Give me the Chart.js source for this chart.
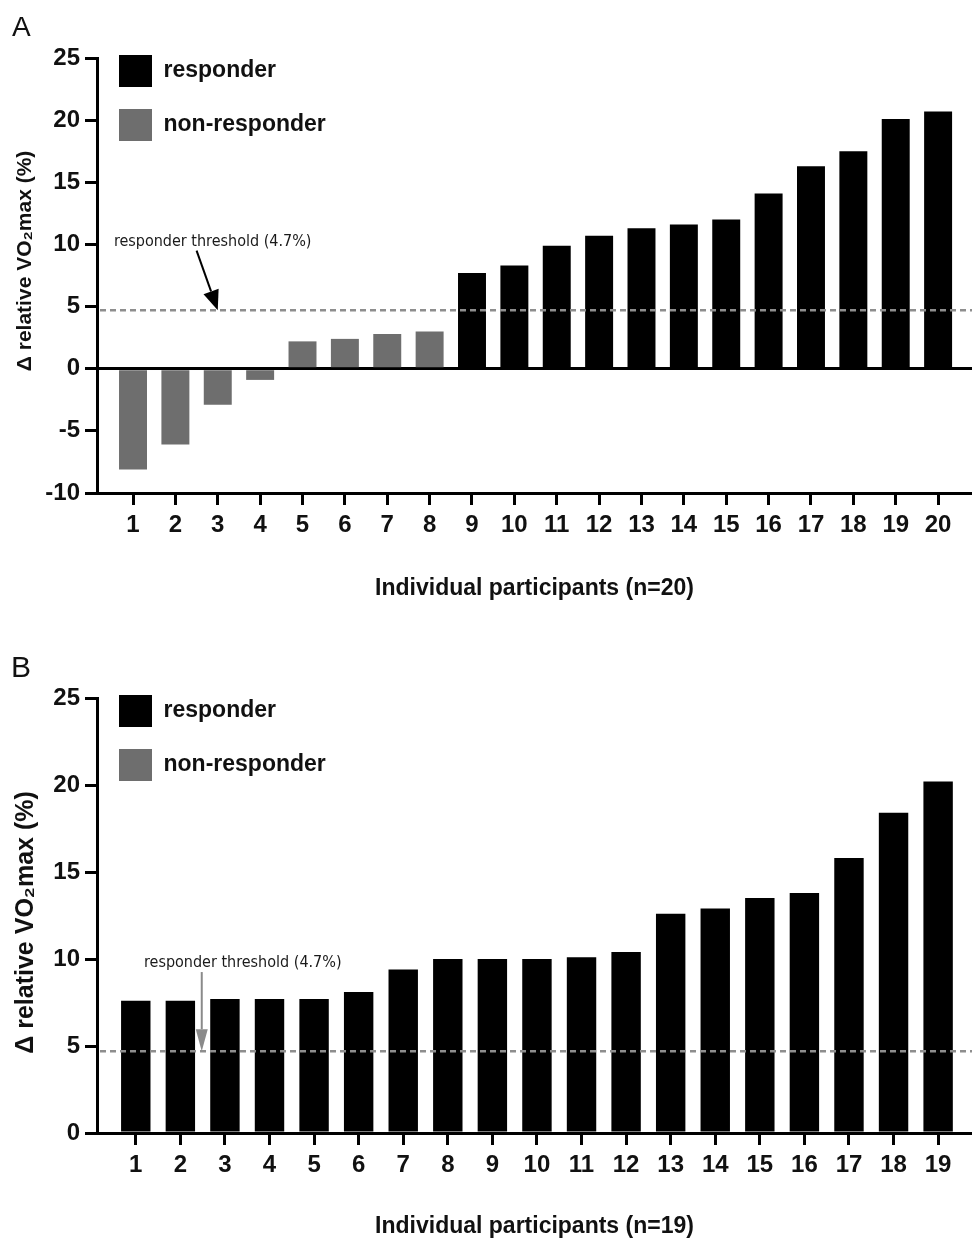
<!DOCTYPE html>
<html><head><meta charset="utf-8">
<script src="https://cdn.jsdelivr.net/npm/chart.js@4.4.1/dist/chart.umd.min.js"></script>
<style>
html,body{margin:0;padding:0;background:#fff;width:972px;height:1238px;overflow:hidden;}
.panel{position:absolute;left:0;width:972px;height:619px;}
#pA{top:0}#pB{top:619px}
.lbl{position:absolute;font-family:"Liberation Sans",Arial,sans-serif;color:#111;line-height:1;}
</style></head><body>
<div class="panel" id="pA"><canvas id="cA" width="972" height="619"></canvas></div>
<div class="panel" id="pB"><canvas id="cB" width="972" height="619"></canvas></div>
<div class="lbl" style="left:12px;top:13px;font-size:28px;line-height:28px">A</div>
<div class="lbl" style="left:11px;top:652px;font-size:30px;line-height:30px">B</div>
<script>
// ---- data ----
const categoriesA = [1, 2, 3, 4, 5, 6, 7, 8, 9, 10, 11, 12, 13, 14, 15, 16, 17, 18, 19, 20];
const valuesA = [-8.1, -6.1, -2.9, -0.9, 2.2, 2.4, 2.8, 3.0, 7.7, 8.3, 9.9, 10.7, 11.3, 11.6, 12.0, 14.1, 16.3, 17.5, 20.1, 20.7];
const categoriesB = [1, 2, 3, 4, 5, 6, 7, 8, 9, 10, 11, 12, 13, 14, 15, 16, 17, 18, 19];
const valuesB = [7.6, 7.6, 7.7, 7.7, 7.7, 8.1, 9.4, 10.0, 10.0, 10.0, 10.1, 10.4, 12.6, 12.9, 13.5, 13.8, 15.8, 18.4, 20.2];
const threshold = 4.7;
const yTicksA = [-10, -5, 0, 5, 10, 15, 20, 25];
const yTicksB = [0, 5, 10, 15, 20, 25];
const seriesNames = ['responder', 'non-responder'];
const yTitle = 'Δ relative VO₂max (%)';
const xTitleA = 'Individual participants (n=20)';
const xTitleB = 'Individual participants (n=19)';
const thresholdLabel = 'responder threshold (4.7%)';

Chart.defaults.font.family = '"Liberation Sans", Arial, sans-serif';
Chart.defaults.font.weight = 'bold';
Chart.defaults.color = '#111';

function annotPlugin(o) {
  return {
    id: 'annot',
    afterDatasetsDraw(chart) {
      const {ctx, chartArea, scales} = chart;
      const x = scales.x, y = scales.y;
      const ty = y.getPixelForValue(threshold);
      ctx.save();
      ctx.strokeStyle = '#8e8e8e'; ctx.lineWidth = 2.5; ctx.setLineDash([6, 4]);
      ctx.beginPath(); ctx.moveTo(chartArea.left + 3, ty); ctx.lineTo(chartArea.right, ty); ctx.stroke();
      ctx.setLineDash([]);
      const x0 = x.getPixelForValue(o.arrowFrom[0]), y0 = y.getPixelForValue(o.arrowFrom[1]);
      const x1 = x.getPixelForValue(o.arrowTo[0]), y1 = y.getPixelForValue(threshold);
      const a = Math.atan2(y1 - y0, x1 - x0), hl = o.headLen, hw = o.headWidth;
      const bx = x1 - hl * Math.cos(a), by = y1 - hl * Math.sin(a);
      ctx.strokeStyle = o.arrowColor; ctx.fillStyle = o.arrowColor; ctx.lineWidth = 2;
      ctx.beginPath(); ctx.moveTo(x0, y0); ctx.lineTo(bx, by); ctx.stroke();
      ctx.beginPath(); ctx.moveTo(x1, y1);
      ctx.lineTo(bx + hw * Math.sin(a), by - hw * Math.cos(a));
      ctx.lineTo(bx - hw * Math.sin(a), by + hw * Math.cos(a));
      ctx.closePath(); ctx.fill();
      ctx.font = o.font; ctx.fillStyle = '#1a1a1a'; ctx.textAlign = 'center'; ctx.textBaseline = 'middle';
      ctx.fillText(thresholdLabel, x.getPixelForValue(o.textAt[0]), y.getPixelForValue(o.textAt[1]));
      ctx.restore();
    }
  };
}

const legendShift = {
  id: 'legendShift',
  afterLayout(chart) { chart.legend.top = chart.chartArea.top - 25; }
};

function makeChart(id, cats, vals, yTicks, xTitle, cfg) {
  const pts = cats.map((c, i) => ({x: c, y: vals[i]}));
  const common = {grouped: false, barPercentage: 0.66, categoryPercentage: 1, borderWidth: 0};
  return new Chart(document.getElementById(id), {
    type: 'bar',
    data: {
      datasets: [
        Object.assign({label: seriesNames[0], data: pts.filter(p => p.y > threshold), backgroundColor: '#000'}, common),
        Object.assign({label: seriesNames[1], data: pts.filter(p => p.y <= threshold), backgroundColor: '#6e6e6e'}, common)
      ]
    },
    options: {
      responsive: false, animation: false, devicePixelRatio: 1,
      layout: {padding: {top: cfg.top, left: 0, right: 0, bottom: 0}},
      plugins: {
        tooltip: {enabled: false},
        legend: {
          position: 'chartArea', align: 'start',
          labels: {boxWidth: 33, boxHeight: 32, padding: 22, color: '#111', font: {size: 23, weight: 'bold'}}
        }
      },
      scales: {
        x: {
          type: 'linear', min: cfg.xMin, max: cfg.xMax, offset: false,
          afterBuildTicks: s => { s.ticks = cats.map(v => ({value: v})); },
          afterFit: s => { s.height = cfg.xHeight; },
          border: {display: true, color: '#000', width: 3},
          grid: {display: true, offset: false, drawOnChartArea: false, drawTicks: true, tickLength: 12, tickColor: '#000', tickWidth: 3, color: '#000', lineWidth: 3},
          ticks: {color: '#111', font: {size: 24, weight: 'bold'}, padding: 6, autoSkip: false, maxRotation: 0, callback: v => String(v)},
          title: {display: true, text: xTitle, color: '#111', font: {size: 23, weight: 'bold', lineHeight: 1}, padding: {top: 0, bottom: cfg.xTitlePad}}
        },
        y: {
          min: yTicks[0], max: yTicks[yTicks.length - 1],
          afterBuildTicks: s => { s.ticks = yTicks.map(v => ({value: v})); },
          afterFit: s => { s.width = 97; },
          border: {display: true, color: '#000', width: 3},
          grid: {color: c => (c.tick && c.tick.value === 0) ? '#000' : 'rgba(0,0,0,0)', lineWidth: 3, drawTicks: true, tickLength: 12, tickColor: '#000', tickWidth: 3},
          ticks: {color: '#111', font: {size: 24, weight: 'bold'}, padding: 5},
          title: {display: true, text: cfg.yTitleText, color: '#111', font: {size: cfg.yTitleSize, weight: 'bold'}, padding: {top: cfg.yTitlePad, bottom: 0}}
        }
      }
    },
    plugins: [annotPlugin(cfg.annot), legendShift]
  });
}

makeChart('cA', categoriesA, valuesA, yTicksA, xTitleA, {
  top: 58, xMin: 0.15, xMax: 20.8, xHeight: 126, xTitlePad: 19,
  yTitleText: '     ' + yTitle, yTitleSize: 21, yTitlePad: 13,
  annot: {arrowFrom: [2.5, 9.5], arrowTo: [3.0], textAt: [2.88, 10.2], arrowColor: '#000', headLen: 20, headWidth: 8, font: '16px "DejaVu Sans Condensed", "Open Sans", sans-serif'}
});
makeChart('cB', categoriesB, valuesB, yTicksB, xTitleB, {
  top: 79, xMin: 0.13, xMax: 19.76, xHeight: 105, xTitlePad: 0,
  yTitleText: yTitle + '  ', yTitleSize: 25, yTitlePad: 11,
  annot: {arrowFrom: [2.48, 9.25], arrowTo: [2.48], textAt: [3.4, 9.77], arrowColor: '#8a8a8a', headLen: 22, headWidth: 6, font: '16px "DejaVu Sans Condensed", "Open Sans", sans-serif'}
});
</script>
</body></html>
